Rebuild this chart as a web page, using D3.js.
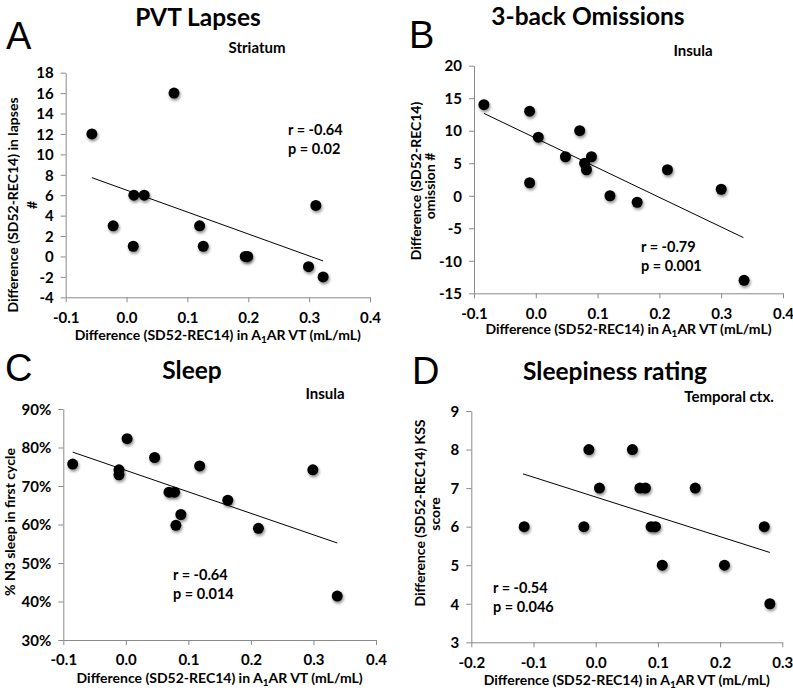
<!DOCTYPE html>
<html><head><meta charset="utf-8">
<script src="https://cdn.jsdelivr.net/npm/d3@7"></script>
<style>
body{margin:0;background:#fff}
text{font-family:Lato,"Open Sans",sans-serif;font-weight:bold;fill:#000}
</style>
</head><body>
<svg id="chart" width="793" height="692"></svg>
<script>
// ---------- DATA ----------
// Panel A: PVT Lapses (Striatum)
const aX = [-0.057,-0.022,0.011,0.012,0.029,0.078,0.120,0.126,0.195,0.199,0.299,0.311,0.323];
const aY = [12,3,1,6,6,16,3,1,0,0,-1,5,-2];
const aTrendX = [-0.057,0.323];
const aTrendY = [7.72,-0.44];
const aXTicks = [-0.1,0.0,0.1,0.2,0.3,0.4];
const aXTickLabels = ["-0.1","0.0","0.1","0.2","0.3","0.4"];
const aYTicks = [-4,-2,0,2,4,6,8,10,12,14,16,18];
const aYTickLabels = ["-4","-2","0","2","4","6","8","10","12","14","16","18"];

// Panel B: 3-back Omissions (Insula)
const bX = [-0.084,-0.010,-0.010,0.004,0.048,0.071,0.079,0.082,0.090,0.120,0.164,0.213,0.300,0.337];
const bY = [14,13,2,9,6,10,5,4,6,0,-1,4,1,-13];
const bTrendX = [-0.084,0.336];
const bTrendY = [12.67,-6.44];
const bXTicks = [-0.1,0.0,0.1,0.2,0.3,0.4];
const bXTickLabels = ["-0.1","0.0","0.1","0.2","0.3","0.4"];
const bYTicks = [-15,-10,-5,0,5,10,15,20];
const bYTickLabels = ["-15","-10","-5","0","5","10","15","20"];

// Panel C: Sleep (Insula), % N3 sleep
const cX = [-0.085,-0.011,-0.011,0.002,0.046,0.069,0.078,0.080,0.088,0.118,0.163,0.212,0.299,0.338];
const cY = [75.7,74.2,72.9,82.3,77.4,68.4,68.4,59.8,62.6,75.2,66.3,59.0,74.2,41.4];
const cTrendX = [-0.085,0.338];
const cTrendY = [78.8,55.2];
const cXTicks = [-0.1,0.0,0.1,0.2,0.3,0.4];
const cXTickLabels = ["-0.1","0.0","0.1","0.2","0.3","0.4"];
const cYTicks = [30,40,50,60,70,80,90];
const cYTickLabels = ["30%","40%","50%","60%","70%","80%","90%"];

// Panel D: Sleepiness rating (Temporal ctx.)
const dX = [-0.115,-0.019,-0.011,0.006,0.059,0.071,0.080,0.089,0.096,0.107,0.160,0.207,0.271,0.280];
const dY = [6,6,8,7,8,7,7,6,6,5,7,5,6,4];
const dTrendX = [-0.117,0.280];
const dTrendY = [7.37,5.33];
const dXTicks = [-0.2,-0.1,0.0,0.1,0.2,0.3];
const dXTickLabels = ["-0.2","-0.1","0.0","0.1","0.2","0.3"];
const dYTicks = [3,4,5,6,7,8,9];
const dYTickLabels = ["3","4","5","6","7","8","9"];

const panelLetters = ["A","B","C","D"];
const titles = ["PVT Lapses","3-back Omissions","Sleep","Sleepiness rating"];
const regions = ["Striatum","Insula","Insula","Temporal ctx."];
const rTexts = ["r = -0.64","r = -0.79","r = -0.64","r = -0.54"];
const pTexts = ["p = 0.02","p = 0.001","p = 0.014","p = 0.046"];
const yLabels = [["Difference (SD52-REC14) in lapses","#"],["Difference (SD52-REC14)","omission #"],["% N3 sleep in first cycle"],["Difference (SD52-REC14) KSS","score"]];

// ---------- LAYOUT ----------
const svg = d3.select("#chart");
const defs = svg.append("defs");
const f = defs.append("filter").attr("id","shadow").attr("x","-50%").attr("y","-50%").attr("width","200%").attr("height","200%");
f.append("feGaussianBlur").attr("in","SourceAlpha").attr("stdDeviation",1.6).attr("result","b");
f.append("feOffset").attr("in","b").attr("dx",1).attr("dy",1.5).attr("result","o");
f.append("feComponentTransfer").attr("in","o").attr("result","oc").append("feFuncA").attr("type","linear").attr("slope",0.45);
const m = f.append("feMerge");
m.append("feMergeNode").attr("in","oc");
m.append("feMergeNode").attr("in","SourceGraphic");

const panels = [
  {x:aX,y:aY,tx:aTrendX,ty:aTrendY,xt:aXTicks,xl:aXTickLabels,yt:aYTicks,yl:aYTickLabels,
   xr:[65.7,370],yr:[297.3,72.7],
   letter:[6,49],title:[198,26],region:[257,53],stat:[288,135],ylab:[[17.5,205],[37,205]],xlab:340},
  {x:bX,y:bY,tx:bTrendX,ty:bTrendY,xt:bXTicks,xl:bXTickLabels,yt:bYTicks,yl:bYTickLabels,
   xr:[474,783],yr:[293.3,65.7],
   letter:[409,48],title:[588,25],region:[693,56],stat:[641,252],ylab:[[421,181],[435,186]],xlab:334},
  {x:cX,y:cY,tx:cTrendX,ty:cTrendY,xt:cXTicks,xl:cXTickLabels,yt:cYTicks,yl:cYTickLabels,
   xr:[63.3,376],yr:[640,409],
   letter:[5,381],title:[192,379],region:[325,399],stat:[173,580],ylab:[[14.5,522]],xlab:683},
  {x:dX,y:dY,tx:dTrendX,ty:dTrendY,xt:dXTicks,xl:dXTickLabels,yt:dYTicks,yl:dYTickLabels,
   xr:[471.3,782.3],yr:[642.3,411],
   letter:[412,384],title:[615,380],region:[729,402],stat:[493,593],ylab:[[425,513],[440,514]],xlab:685}
];

const axisColor = "#8a8a8a";

panels.forEach((p,i)=>{
  const g = svg.append("g");
  const xs = d3.scaleLinear().domain([p.xt[0],p.xt[p.xt.length-1]]).range(p.xr);
  const ys = d3.scaleLinear().domain([p.yt[0],p.yt[p.yt.length-1]]).range(p.yr);

  const xa = g.append("g").attr("transform",`translate(0,${p.yr[0]})`)
    .call(d3.axisBottom(xs).tickValues(p.xt).tickFormat((d,k)=>p.xl[k]).tickSize(5).tickSizeOuter(0).tickPadding(6));
  const ya = g.append("g").attr("transform",`translate(${p.xr[0]},0)`)
    .call(d3.axisLeft(ys).tickValues(p.yt).tickFormat((d,k)=>p.yl[k]).tickSize(5).tickSizeOuter(0).tickPadding(7));
  [xa,ya].forEach(a=>{
    a.select(".domain").attr("stroke",axisColor).attr("stroke-width",1);
    a.selectAll(".tick line").attr("stroke",axisColor);
    a.selectAll(".tick text").attr("font-size",15).attr("font-family","Lato").attr("font-weight","bold").attr("fill","#000");
  });
  xa.selectAll(".tick text").attr("dy","0.95em");
  ya.selectAll(".tick text").attr("dy","0.35em");

  // trend line
  const tl = p.tx.map((v,k)=>[v,p.ty[k]]);
  g.append("path").datum(tl)
    .attr("d",d3.line().x(d=>xs(d[0])).y(d=>ys(d[1])))
    .attr("stroke","#000").attr("stroke-width",1).attr("fill","none");

  // points
  g.selectAll("circle.pt").data(p.x.map((v,k)=>[v,p.y[k]])).join("circle")
    .attr("class","pt").attr("cx",d=>xs(d[0])).attr("cy",d=>ys(d[1])).attr("r",5.5)
    .attr("fill","#000").attr("filter","url(#shadow)");

  // texts
  svg.append("text").attr("x",p.letter[0]).attr("y",p.letter[1])
    .style("font-family","'Liberation Sans',Arial,sans-serif").style("font-weight","normal")
    .attr("font-size",38).text(panelLetters[i]);
  svg.append("text").attr("x",p.title[0]).attr("y",p.title[1]).attr("text-anchor","middle")
    .attr("font-size",24.5).text(titles[i]);
  svg.append("text").attr("x",p.region[0]).attr("y",p.region[1]).attr("text-anchor","middle")
    .attr("font-size",15).text(regions[i]);
  svg.append("text").attr("x",p.stat[0]).attr("y",p.stat[1]).attr("font-size",14.5).text(rTexts[i]);
  svg.append("text").attr("x",p.stat[0]).attr("y",p.stat[1]+19).attr("font-size",14.5).text(pTexts[i]);

  yLabels[i].forEach((t,k)=>{
    svg.append("text").attr("transform",`translate(${p.ylab[k][0]},${p.ylab[k][1]}) rotate(-90)`)
      .attr("text-anchor","middle").attr("font-size",14).text(t);
  });

  const xl = svg.append("text").attr("x",(p.xr[0]+p.xr[1])/2).attr("y",p.xlab)
    .attr("text-anchor","middle").attr("font-size",14);
  xl.append("tspan").text("Difference (SD52-REC14) in A");
  xl.append("tspan").attr("font-size",10).attr("dy",3).text("1");
  xl.append("tspan").attr("dy",-3).text("AR VT (mL/mL)");
});
</script>
</body></html>
